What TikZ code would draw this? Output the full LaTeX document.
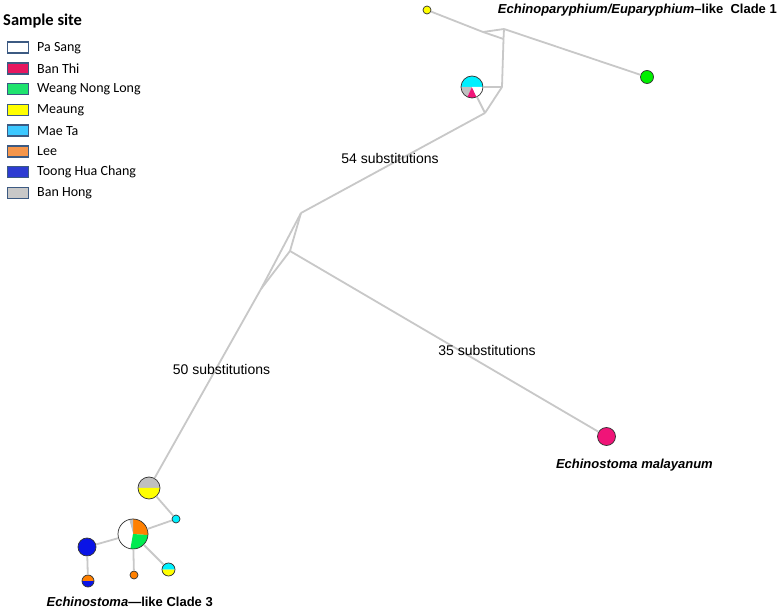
\documentclass[tikz,border=0pt]{standalone}
\usepackage{fontspec}
\setmainfont{Liberation Sans}
\newfontfamily\cali{Carlito}
\definecolor{edgegray}{RGB}{200,200,200}
\definecolor{nodeborder}{RGB}{50,50,50}
\definecolor{legborder}{RGB}{60,90,130}
\definecolor{hpink}{RGB}{240,20,120}
\definecolor{hgreen}{RGB}{0,235,80}
\definecolor{hlime}{RGB}{0,240,0}
\definecolor{hcyan}{RGB}{0,240,255}
\definecolor{horange}{RGB}{255,128,0}
\definecolor{hblue}{RGB}{10,20,230}
\definecolor{hyellow}{RGB}{255,255,0}
\definecolor{hgray}{RGB}{192,192,192}
\definecolor{lpink}{RGB}{230,23,95}
\definecolor{lgreen}{RGB}{30,227,110}
\definecolor{lcyan}{RGB}{60,200,255}
\definecolor{lorange}{RGB}{245,150,75}
\definecolor{lblue}{RGB}{45,60,210}
\definecolor{lgray}{RGB}{200,200,200}
\newcommand{\pw}[3]{\fill[#3] (path picture bounding box.center) -- ++(#1:30pt) arc[start angle=#1,end angle=#2,radius=30pt] -- cycle;}
\begin{document}
\begin{tikzpicture}[x=1pt,y=-1pt,
  edge/.style={draw=edgegray, line width=1.8pt},
  hap/.style={circle, draw=nodeborder, line width=0.7pt, inner sep=0pt},
  legbox/.style={draw=legborder, line width=1.5pt, minimum width=21pt, minimum height=11pt, inner sep=0pt},
  legtxt/.style={anchor=west, font=\cali\fontsize{14}{16}\selectfont, inner sep=0pt},
  sublab/.style={font=\fontsize{14}{16}\selectfont, inner sep=0pt},
  cladelab/.style={font=\bfseries\fontsize{13}{15}\selectfont, inner sep=0pt}]
\useasboundingbox[fill=white] (0,0) rectangle (780,612);

% legend
\node[anchor=west, font=\cali\bfseries\fontsize{16.5}{18}\selectfont, inner sep=0pt] (legtitle) at (3,21) {Sample site};
\foreach \i/\c/\t in {0/white/Pa Sang, 1/lpink/Ban Thi, 2/lgreen/Weang Nong Long, 3/hyellow/Meaung, 4/lcyan/Mae Ta, 5/lorange/Lee, 6/lblue/Toong Hua Chang, 7/lgray/Ban Hong}{
  \node[legbox, fill=\c] (lb\i) at (18, 47.7+20.75*\i) {};
  \node[legtxt] (lt\i) at (37, 47.7+20.75*\i) {\t};
}

% haplotype nodes
\node[hap, fill=hyellow, minimum size=8pt] (ytop) at (427,10) {};
\node[hap, fill=hlime, minimum size=13pt] (gtop) at (647,77) {};
\node[hap, minimum size=22pt, path picture={\pw{0}{180}{hcyan}\pw{180}{245}{hgray}\pw{245}{295}{hpink}\pw{295}{360}{white}}] (ctop) at (472,87) {};
\node[hap, fill=hpink, minimum size=18pt] (mal) at (606.5,436.5) {};
\node[hap, minimum size=22pt, path picture={\pw{0}{180}{hgray}\pw{180}{360}{hyellow}}] (mea) at (149,488) {};
\node[hap, fill=hcyan, minimum size=8pt] (cys) at (176,519) {};
\node[hap, minimum size=30pt, path picture={\pw{-4}{90}{horange}\pw{90}{105}{hgray}\pw{105}{260}{white}\pw{260}{356}{hgreen}}] (pie) at (133,534) {};
\node[hap, fill=hblue, minimum size=18pt] (blu) at (87,547) {};
\node[hap, minimum size=12pt, path picture={\pw{0}{180}{horange}\pw{180}{360}{hblue}}] (bo) at (88,581) {};
\node[hap, fill=horange, minimum size=8pt] (ors) at (134,575) {};
\node[hap, minimum size=13pt, path picture={\pw{0}{180}{hcyan}\pw{180}{360}{hyellow}}] (cy) at (168.5,569.5) {};

% junction points
\coordinate (A) at (483,32);
\coordinate (B) at (504,29);
\coordinate (C) at (503.5,39);
\coordinate (D) at (502,87);
\coordinate (E) at (485,113);
\coordinate (F) at (301,213);
\coordinate (G) at (290,251);
\coordinate (H) at (261,289);

% edges
\draw[edge] (ytop) -- (A);
\draw[edge] (A) -- (B);
\draw[edge] (A) -- (C);
\draw[edge] (B) -- (C);
\draw[edge] (B) -- (gtop);
\draw[edge] (C) -- (D);
\draw[edge] (ctop) -- (D);
\draw[edge] (D) -- (E);
\draw[edge] (ctop) -- (E);
\draw[edge] (E) -- (F);
\draw[edge] (F) -- (G);
\draw[edge] (F) -- (H);
\draw[edge] (G) -- (H);
\draw[edge] (G) -- (mal);
\draw[edge] (H) -- (mea);
\draw[edge] (mea) -- (cys);
\draw[edge] (cys) -- (pie);
\draw[edge] (pie) -- (blu);
\draw[edge] (blu) -- (bo);
\draw[edge] (pie) -- (ors);
\draw[edge] (pie) -- (cy);

% labels
\node[sublab] (l54) at (390,158) {54 substitutions};
\node[sublab] (l35) at (487,350) {35 substitutions};
\node[sublab] (l50) at (221.5,369) {50 substitutions};
\node[cladelab, anchor=east] (c1) at (777,10) {\textit{Echinoparyphium/Euparyphium}–like~~Clade 1};
\node[cladelab, anchor=east] (cm) at (713,465) {\textit{Echinostoma malayanum}};
\node[cladelab, anchor=east] (c3) at (213,602) {\textit{Echinostoma}—like Clade 3};
\end{tikzpicture}
\end{document}
